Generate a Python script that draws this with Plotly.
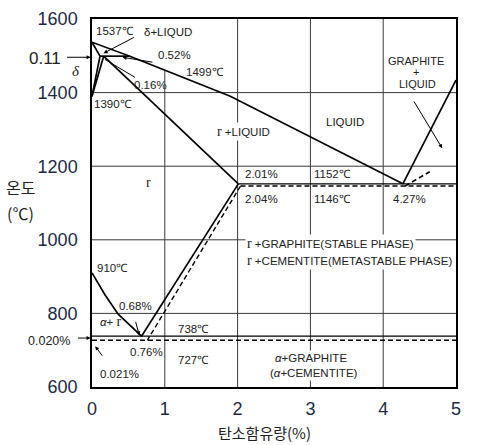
import plotly.graph_objects as go

# ---------------- data (carbon %, temperature °C) ----------------
x_ticks = [0, 1, 2, 3, 4, 5]
y_ticks = [600, 800, 1000, 1200, 1400, 1600]

liquidus_c = [0, 0.52, 1.9, 4.27]
liquidus_t = [1537, 1499, 1390, 1152]
ah_c, ah_t = [0, 0.11], [1537, 1499]
peritectic_c, peritectic_t = [0.11, 0.52], [1499, 1499]
nh_c, nh_t = [0, 0.11], [1390, 1499]
nj_c, nj_t = [0, 0.16], [1390, 1499]
solidus_c, solidus_t = [0.16, 2.01], [1499, 1152]
eut_stable_c, eut_stable_t = [2.01, 5], [1152, 1152]
eut_meta_c, eut_meta_t = [2.04, 5], [1146, 1146]
acm_stable_c, acm_stable_t = [2.01, 0.68], [1152, 738]
acm_meta_c, acm_meta_t = [2.04, 0.76], [1146, 727]
a3_c = [0, 0.18, 0.36, 0.68]
a3_t = [910, 850, 798, 738]
eutd_stable_c, eutd_stable_t = [0, 5], [738, 738]
eutd_meta_c, eutd_meta_t = [0, 5], [727, 727]
graphite_liq_c, graphite_liq_t = [4.27, 5], [1152, 1434]
cem_liq_c, cem_liq_t = [4.30, 4.64], [1146, 1185]

grid_x = [2, 3, 4]
grid_x1_top = 1462  # x=1 grid line stops at the liquidus
grid_y = [800, 1000, 1200, 1400]

X_RANGE = [0, 5]
Y_RANGE = [600, 1600]

# ---------------- figure ----------------
fig = go.Figure()

def add_line(c, t, dash="solid", w=1.7):
    fig.add_trace(go.Scatter(x=c, y=t, mode="lines",
                             line=dict(color="black", width=w, dash=dash),
                             hoverinfo="skip", showlegend=False, cliponaxis=False))

solid_sets = [(liquidus_c, liquidus_t), (ah_c, ah_t), (peritectic_c, peritectic_t),
              (nh_c, nh_t), (nj_c, nj_t), (solidus_c, solidus_t),
              (acm_stable_c, acm_stable_t), (a3_c, a3_t),
              (graphite_liq_c, graphite_liq_t)]
for c, t in solid_sets:
    add_line(c, t)
add_line(eut_stable_c, eut_stable_t, w=1.2)
add_line(eutd_stable_c, eutd_stable_t, w=1.2)
add_line(eut_meta_c, eut_meta_t, dash="5px,3px", w=1.6)
add_line(eutd_meta_c, eutd_meta_t, dash="5px,3px", w=1.6)
add_line(acm_meta_c, acm_meta_t, dash="5px,3px", w=1.4)
add_line(cem_liq_c, cem_liq_t, dash="5px,3px", w=1.6)

GRID = "#3a3a3a"
shapes = []
for gx in grid_x:
    shapes.append(dict(type="line", xref="x", yref="y", x0=gx, x1=gx, y0=600, y1=1600,
                       line=dict(color=GRID, width=1), layer="below"))
shapes.append(dict(type="line", xref="x", yref="y", x0=1, x1=1, y0=600, y1=grid_x1_top,
                   line=dict(color=GRID, width=1), layer="below"))
for gy in grid_y:
    shapes.append(dict(type="line", xref="x", yref="y", x0=0, x1=5, y0=gy, y1=gy,
                       line=dict(color=GRID, width=1), layer="below"))

SANS = "Liberation Sans, Arial, sans-serif"
SERIF = "Liberation Serif, Times New Roman, serif"
TXT = "#222"
FS = 11.5

ann = []
def label(x, y, text, size=FS, xanchor="center", bg=None, family=SANS):
    d = dict(x=x, y=y, xref="x", yref="y", text=text, showarrow=False,
             font=dict(family=family, size=size, color=TXT), xanchor=xanchor, yanchor="middle")
    if bg:
        d["bgcolor"] = bg
    ann.append(d)

def px(c):  # carbon % -> paper x (for labels left of the axis)
    return (c - X_RANGE[0]) / (X_RANGE[1] - X_RANGE[0])

def py(t):  # temperature -> paper y
    return (t - Y_RANGE[0]) / (Y_RANGE[1] - Y_RANGE[0])

def out_label(c, t, text, size, family=SANS):
    ann.append(dict(x=px(c), y=py(t), xref="paper", yref="paper", text=text, showarrow=False,
                    font=dict(family=family, size=size, color=TXT),
                    xanchor="center", yanchor="middle"))

def out_arrow(c, t, dx):
    ann.append(dict(x=px(c), y=py(t), xref="paper", yref="paper", ax=-dx, ay=0,
                    text="", showarrow=True, arrowhead=2, arrowsize=0.8,
                    arrowwidth=1, arrowcolor="black"))

def arrow(x, y, ax, ay, head=2):
    ann.append(dict(x=x, y=y, ax=ax, ay=ay, xref="x", yref="y", axref="x", ayref="y",
                    text="", showarrow=True, arrowhead=head, arrowsize=0.8,
                    arrowwidth=1, arrowcolor="black"))

G = '<span style="font-family:Liberation Serif;font-size:14px">r</span>'

label(0.32, 1567, "1537℃")
label(1.05, 1565, "δ+LIQUD")
label(1.13, 1502, "0.52%")
label(1.555, 1456, "1499℃")
label(0.80, 1421, "0.16%")
label(0.005, 1369, "1390℃", xanchor="left")
label(2.075, 1293, G + " +LIQUID", bg="white")
label(3.47, 1320, "LIQUID", size=11.5)
label(4.45, 1485, "GRAPHITE", size=11)
label(4.45, 1457, "+", size=11)
label(4.475, 1424, "LIQUID", size=11)
label(0.773, 1155, G)
label(2.325, 1178, "2.01%")
label(3.30, 1178, "1152℃")
label(2.325, 1110, "2.04%")
label(3.30, 1110, "1146℃")
label(4.355, 1110, "4.27%")
label(2.10, 991, G + " +GRAPHITE(STABLE PHASE)", xanchor="left", bg="white")
label(2.10, 945, G + " +CEMENTITE(METASTABLE PHASE)", xanchor="left", bg="white")
label(0.28, 923, "910℃")
label(0.594, 819, "0.68%")
label(0.25, 779, '<i>α</i>+ ' + G)
label(1.39, 757, "738℃")
label(0.745, 694, "0.76%")
label(1.39, 673, "727℃")
label(0.375, 634, "0.021%")
label(3.01, 678, "<i>α</i>+GRAPHITE", bg="white")
label(3.05, 637, "(<i>α</i>+CEMENTITE)", bg="white")

# labels left of the axis (paper coordinates so they are not hidden)
out_label(-0.64, 1494, "0.11", 17)
out_label(-0.215, 1459, "<i>δ</i>", 15, family=SERIF)
out_label(-0.585, 724, "0.020%", 12.5)
out_arrow(-0.02, 1496, 25)
out_arrow(-0.02, 733, 14)

arrow(0.045, 711, 0.155, 681)
arrow(0.65, 740, 0.594, 781)
arrow(0.16, 1507, 0.595, 1552)
arrow(0.42, 1496, 0.85, 1482)
arrow(0.18, 1490, 0.61, 1439, head=0)
arrow(4.81, 1249, 4.41, 1380)

fig.update_layout(
    width=493, height=445,
    margin=dict(l=92, r=37, t=19, b=58, autoexpand=False),
    paper_bgcolor="white", plot_bgcolor="white",
    shapes=shapes, annotations=ann,
    xaxis=dict(range=X_RANGE, tickvals=x_ticks, showgrid=False, zeroline=False,
               showline=True, linecolor="black", linewidth=1.5, mirror=True,
               automargin=False,
               ticks="outside", ticklen=5, tickcolor="rgba(0,0,0,0)",
               tickfont=dict(family=SANS, size=18, color="#1e2a44")),
    yaxis=dict(range=Y_RANGE, tickvals=y_ticks, showgrid=False, zeroline=False,
               showline=True, linecolor="black", linewidth=1.5, mirror=True,
               automargin=False,
               ticks="outside", ticklen=9, tickcolor="rgba(0,0,0,0)",
               tickfont=dict(family=SANS, size=18, color="#1e2a44")),
)
fig.add_annotation(xref="paper", yref="paper", x=0.473, y=-0.123, text="탄소함유량(%)",
                   xanchor="center", yanchor="middle", showarrow=False,
                   font=dict(family="Noto Sans CJK KR", size=15, color=TXT))
fig.add_annotation(xref="paper", yref="paper", x=-0.197, y=0.543, text="온도",
                   xanchor="center", yanchor="middle", showarrow=False,
                   font=dict(family="Noto Sans CJK KR", size=16, color=TXT))
fig.add_annotation(xref="paper", yref="paper", x=-0.197, y=0.472, text="(℃)",
                   xanchor="center", yanchor="middle", showarrow=False,
                   font=dict(family="Noto Sans CJK KR", size=16, color=TXT))

# the page body has a default 8px margin; remove it so the figure sits at the window origin
fig.write_html("out.html", config={"displayModeBar": False},
               post_script="document.body.style.margin='0';")
